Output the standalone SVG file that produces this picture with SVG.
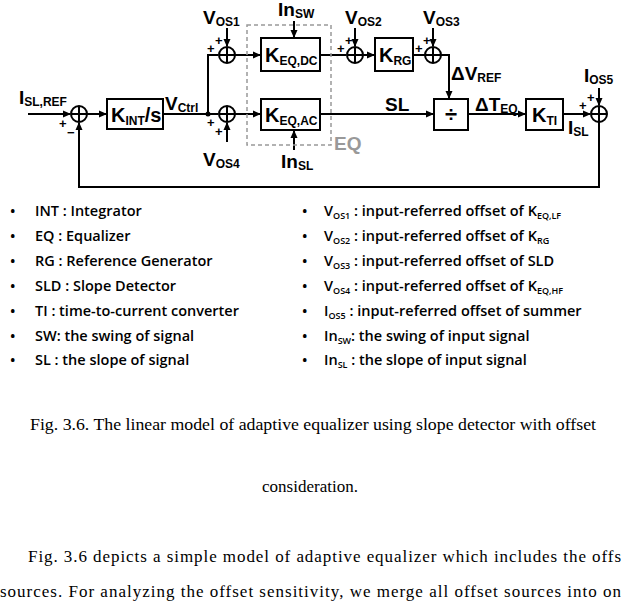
<svg xmlns="http://www.w3.org/2000/svg" width="621" height="610" viewBox="0 0 621 610">
<style>
.l{stroke:#000;stroke-width:2;fill:none}
.b{stroke:#000;stroke-width:2;fill:#fff}
.t{font-family:"Liberation Sans",Arial,sans-serif;font-weight:bold;font-size:19px;fill:#000}
.s{font-size:12px}
.p{font-family:"Liberation Sans",Arial,sans-serif;font-weight:bold;font-size:13px}
.bl{font-family:"Open Sans","Liberation Sans",sans-serif;font-weight:600;font-size:14.5px;fill:#000}
.bs{font-size:9px}
.c{font-family:"Liberation Serif","Times New Roman",serif;font-size:17px;fill:#000}
</style>
<defs>
<marker id="a" markerWidth="8" markerHeight="8" refX="7" refY="4" orient="auto" markerUnits="userSpaceOnUse"><path d="M0,0.5 L8,4 L0,7.5z" fill="#000"/></marker>
<g id="sum"><circle r="8" class="b"/><path d="M-8,0H8M0,-8V8" class="l" stroke-width="1.5"/></g>
</defs>
<rect width="621" height="610" fill="#fff"/>
<g id="connectors">
<path class="l" d="M28,114H70" marker-end="url(#a)"/>
<path class="l" d="M87,114H106" marker-end="url(#a)"/>
<path class="l" d="M163,114H218"/>
<circle cx="208" cy="114" r="2.5"/>
<path class="l" d="M208,114V55H218"/>
<path class="l" d="M235,55H260" marker-end="url(#a)"/>
<path class="l" d="M235,114H260" marker-end="url(#a)"/>
<path class="l" d="M227,28V46" marker-end="url(#a)"/>
<path class="l" d="M227,142V123" marker-end="url(#a)"/>
<path class="l" d="M294,21V37" marker-end="url(#a)"/>
<path class="l" d="M294,150V131" marker-end="url(#a)"/>
<path class="l" d="M320,55H346"/>
<path class="l" d="M362,55H374" marker-end="url(#a)"/>
<path class="l" d="M355,28V46" marker-end="url(#a)"/>
<path class="l" d="M413,55H425"/>
<path class="l" d="M433,28V46" marker-end="url(#a)"/>
<path class="l" d="M441,55H449V98" marker-end="url(#a)"/>
<path class="l" d="M320,114H433" marker-end="url(#a)"/>
<path class="l" d="M468,114H525" marker-end="url(#a)"/>
<path class="l" d="M563,114H590" marker-end="url(#a)"/>
<path class="l" d="M599,88V105" marker-end="url(#a)"/>
<path class="l" d="M599,122V187H79V123" marker-end="url(#a)"/>
</g>
<g id="eq"><rect x="247" y="25" width="84" height="120" fill="none" stroke="#999" stroke-width="1.5" stroke-dasharray="4,3"/><text x="334" y="150" class="t" style="fill:#999">EQ</text></g>
<g id="sum0"><use href="#sum" x="79" y="114"/></g>
<g id="sum1"><use href="#sum" x="227" y="55"/></g>
<g id="sum4"><use href="#sum" x="227" y="114"/></g>
<g id="sum2"><use href="#sum" x="355" y="55"/></g>
<g id="sum3"><use href="#sum" x="433" y="55"/></g>
<g id="sum5"><use href="#sum" x="599" y="114"/></g>
<g id="kint"><rect x="107" y="99" width="56" height="30" class="b"/><text x="111" y="122" class="t" style="font-size:20px">K<tspan class="s" dy="3">INT</tspan><tspan dy="-3">/s</tspan></text></g>
<g id="keqdc"><rect x="261" y="38" width="59" height="33" class="b"/><text x="265" y="62" class="t" style="font-size:20px">K<tspan class="s" dy="3">EQ,DC</tspan></text></g>
<g id="keqac"><rect x="261" y="99" width="59" height="31" class="b"/><text x="265" y="122" class="t" style="font-size:20px">K<tspan class="s" dy="3">EQ,AC</tspan></text></g>
<g id="krg"><rect x="375" y="38" width="38" height="33" class="b"/><text x="379" y="62" class="t" style="font-size:20px">K<tspan class="s" dy="3">RG</tspan></text></g>
<g id="div"><rect x="434" y="99" width="34" height="31" class="b"/><text x="451" y="122" class="t" text-anchor="middle" style="font-size:22px">÷</text></g>
<g id="kti"><rect x="526" y="99" width="37" height="31" class="b"/><text x="532" y="122" class="t" style="font-size:20px">K<tspan class="s" dy="3">TI</tspan></text></g>
<g id="labels">
<text x="19" y="104" class="t">I<tspan class="s" dy="2">SL,REF</tspan></text>
<text x="59" y="128" class="p">+</text><text x="67" y="137" class="p">−</text>
<text x="165" y="110" class="t">V<tspan class="s" dy="2">Ctrl</tspan></text>
<text x="203" y="24" class="t">V<tspan class="s" dy="2">OS1</tspan></text>
<text x="215" y="45" class="p">+</text><text x="207" y="53" class="p">+</text>
<text x="207" y="127" class="p">+</text><text x="215" y="136" class="p">+</text>
<text x="203" y="166" class="t">V<tspan class="s" dy="2">OS4</tspan></text>
<text x="278" y="16" class="t">In<tspan class="s" dy="2">SW</tspan></text>
<text x="281" y="168" class="t">In<tspan class="s" dy="2">SL</tspan></text>
<text x="337" y="53" class="p">+</text><text x="345" y="45" class="p">+</text>
<text x="345" y="24" class="t">V<tspan class="s" dy="2">OS2</tspan></text>
<text x="415" y="53" class="p">+</text><text x="423" y="45" class="p">+</text>
<text x="423" y="24" class="t">V<tspan class="s" dy="2">OS3</tspan></text>
<text x="451" y="80" class="t">ΔV<tspan class="s" dy="2">REF</tspan></text>
<text x="385" y="111" class="t">SL</text>
<text x="475" y="111" class="t">ΔT<tspan class="s" dy="2">EQ</tspan></text>
<text x="568" y="134" class="t">I<tspan class="s" dy="2">SL</tspan></text>
<text x="579" y="110" class="p">+</text><text x="587" y="102" class="p">+</text>
<text x="584" y="82" class="t">I<tspan class="s" dy="2">OS5</tspan></text>
</g>
<g id="legend" class="bl">
<text x="10" y="216">•</text><text x="35" y="216">INT : Integrator</text>
<text x="10" y="241">•</text><text x="35" y="241">EQ : Equalizer</text>
<text x="10" y="266">•</text><text x="35" y="266">RG : Reference Generator</text>
<text x="10" y="291">•</text><text x="35" y="291">SLD : Slope Detector</text>
<text x="10" y="316">•</text><text x="35" y="316">TI : time-to-current converter</text>
<text x="10" y="341">•</text><text x="35" y="341">SW: the swing of signal</text>
<text x="10" y="365">•</text><text x="35" y="365">SL : the slope of signal</text>
<text x="302" y="216">•</text><text x="324" y="216">V<tspan class="bs" dy="3">OS1</tspan><tspan dy="-3"> : input-referred offset of K</tspan><tspan class="bs" dy="3">EQ,LF</tspan></text>
<text x="302" y="241">•</text><text x="324" y="241">V<tspan class="bs" dy="3">OS2</tspan><tspan dy="-3"> : input-referred offset of K</tspan><tspan class="bs" dy="3">RG</tspan></text>
<text x="302" y="266">•</text><text x="324" y="266">V<tspan class="bs" dy="3">OS3</tspan><tspan dy="-3"> : input-referred offset of SLD</tspan></text>
<text x="302" y="291">•</text><text x="324" y="291">V<tspan class="bs" dy="3">OS4</tspan><tspan dy="-3"> : input-referred offset of K</tspan><tspan class="bs" dy="3">EQ,HF</tspan></text>
<text x="302" y="316">•</text><text x="324" y="316">I<tspan class="bs" dy="3">OS5</tspan><tspan dy="-3"> : input-referred offset of summer</tspan></text>
<text x="302" y="341">•</text><text x="324" y="341">In<tspan class="bs" dy="3">SW</tspan><tspan dy="-3">: the swing of input signal</tspan></text>
<text x="302" y="365">•</text><text x="324" y="365">In<tspan class="bs" dy="3">SL</tspan><tspan dy="-3"> : the slope of input signal</tspan></text>
</g>
<g id="caption" class="c">
<text x="30" y="430" textLength="566" lengthAdjust="spacingAndGlyphs">Fig. 3.6. The linear model of adaptive equalizer using slope detector with offset</text>
<text x="310" y="492" text-anchor="middle">consideration.</text>
<text x="28" y="562" textLength="593" lengthAdjust="spacing">Fig. 3.6 depicts a simple model of adaptive equalizer which includes the offs</text>
<text x="0" y="597" textLength="621" lengthAdjust="spacing">sources. For analyzing the offset sensitivity, we merge all offset sources into on</text>
</g>
</svg>
